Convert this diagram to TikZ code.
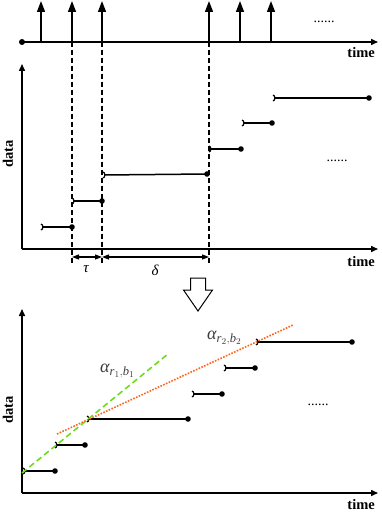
\documentclass[tikz,border=0pt]{standalone}
\usepackage{amsmath}
\usepackage{fontspec}
\setmainfont{Liberation Serif}
\usetikzlibrary{arrows.meta}
\definecolor{lgreen}{RGB}{110,220,30}
\definecolor{dorange}{RGB}{255,100,30}
\definecolor{lblgray}{RGB}{60,60,60}
\newcommand{\itx}[1]{\text{\itshape #1}}
\begin{document}
\begin{tikzpicture}[x=1pt,y=-1pt,
  axis/.style={line width=1.5pt,-{Triangle[length=7pt,width=6pt]}},
  pulse/.style={line width=1.5pt,-{Triangle[length=11pt,width=8pt]}},
  guide/.style={line width=1.2pt,dash pattern=on 5pt off 3pt},
  dim/.style={line width=1.1pt,{Triangle[length=7pt,width=5pt]}-{Triangle[length=7pt,width=5pt]}},
  openseg/.style={line width=1.5pt,{Arc Barb[reversed,length=2.5pt,width=7pt,line width=1.2pt]}-},
  lbl/.style={font=\bfseries\fontsize{14.5}{16}\selectfont,inner sep=0pt},
  dots/.style={font=\fontsize{14}{16}\selectfont,inner sep=0pt},
  mlab/.style={font=\fontsize{15}{17}\selectfont,inner sep=0pt},
  alab/.style={text=lblgray,inner sep=0pt,font=\fontsize{18}{20}\selectfont},
]
\useasboundingbox (0,0) rectangle (382,513);

% ---------- top timeline ----------
\coordinate (t0) at (22,42);
\coordinate (tend) at (378,42);
\draw[axis] (t0) -- (tend);
\fill (t0) circle (3pt);
\foreach \x/\n in {41/a,72/b,102/c,209/d,240/e,271/f}{
  \coordinate (p\n) at (\x,42);
  \coordinate (q\n) at (\x,1);
  \draw[pulse] (p\n) -- (q\n);
}
\node[dots] (e1) at (324,22) {......};
\node[lbl,anchor=east] (time1) at (375,53) {time};

% ---------- middle plot ----------
\coordinate (o2) at (22,249);
\coordinate (y2) at (22,64);
\coordinate (x2) at (378,249);
\draw[axis] (o2) -- (y2);
\draw[axis] (o2) -- (x2);
\node[lbl,rotate=90] (data2) at (8,154) {data};
\node[lbl,anchor=east] (time2) at (375,262) {time};

% dashed guides
\foreach \x/\n in {72/b,102/c,209/d}{
  \coordinate (g\n) at (\x,264);
  \draw[guide] (p\n) -- (g\n);
}

% steps
\coordinate (s1a) at (41,227);  \coordinate (s1b) at (72,227);
\coordinate (s2a) at (72,201);  \coordinate (s2b) at (102,201);
\coordinate (s3a) at (103,175); \coordinate (s3b) at (207,174);
\coordinate (s4a) at (209,149); \coordinate (s4b) at (241,149);
\coordinate (s5a) at (242,123); \coordinate (s5b) at (272,123);
\coordinate (s6a) at (273,98);  \coordinate (s6b) at (369,98);
\foreach \i in {1,...,6}{
  \draw[openseg] (s\i a) -- (s\i b);
  \fill (s\i b) circle (2.8pt);
}
\node[dots] (e2) at (337,161) {......};

% tau / delta
\coordinate (db) at (72,257);
\coordinate (dc) at (102,257);
\coordinate (dd) at (209,257);
\draw[dim] (db) -- (dc);
\draw[dim] (dc) -- (dd);
\node[mlab] (tau) at (86,269) {\itshape τ};
\node[mlab] (delta) at (155,270) {\itshape δ};

% hollow arrow
\draw[line width=1pt,line join=miter]
  (190.5,278) -- (205.5,278) -- (205.5,290) -- (212.5,290) -- (198,311)
  -- (183.5,290) -- (190.5,290) -- cycle;

% ---------- bottom plot ----------
\coordinate (o3) at (22,493);
\coordinate (y3) at (22,309);
\coordinate (x3) at (378,493);
\draw[axis] (o3) -- (y3);
\draw[axis] (o3) -- (x3);
\node[lbl,rotate=90] (data3) at (8,410) {data};
\node[lbl,anchor=east] (time3) at (375,505) {time};

\coordinate (u1a) at (23,471);  \coordinate (u1b) at (55,471);
\coordinate (u2a) at (55,445);  \coordinate (u2b) at (85,445);
\coordinate (u3a) at (87,419);  \coordinate (u3b) at (188,419);
\coordinate (u4a) at (192,394); \coordinate (u4b) at (222,394);
\coordinate (u5a) at (224,368); \coordinate (u5b) at (255,368);
\coordinate (u6a) at (256,342); \coordinate (u6b) at (352,342);
\foreach \i in {1,...,6}{
  \draw[openseg] (u\i a) -- (u\i b);
  \fill (u\i b) circle (2.8pt);
}
\node[dots] (e3) at (318,405) {......};

% fitted lines
\coordinate (gA) at (22,473);
\coordinate (gB) at (168,354);
\draw[lgreen,line width=1.6pt,dash pattern=on 6pt off 3.5pt] (gA) -- (gB);
\coordinate (oA) at (57,434);
\coordinate (oB) at (293,325);
\draw[dorange,line width=1.6pt,dash pattern=on 1.6pt off 1.4pt] (oA) -- (oB);

\node[alab,anchor=west] (a1) at (100,371) {$\itx{α}_{\itx{r}_1,\itx{b}_1}$};
\node[alab,anchor=west] (a2) at (207,338) {$\itx{α}_{\itx{r}_2,\itx{b}_2}$};
\end{tikzpicture}
\end{document}
